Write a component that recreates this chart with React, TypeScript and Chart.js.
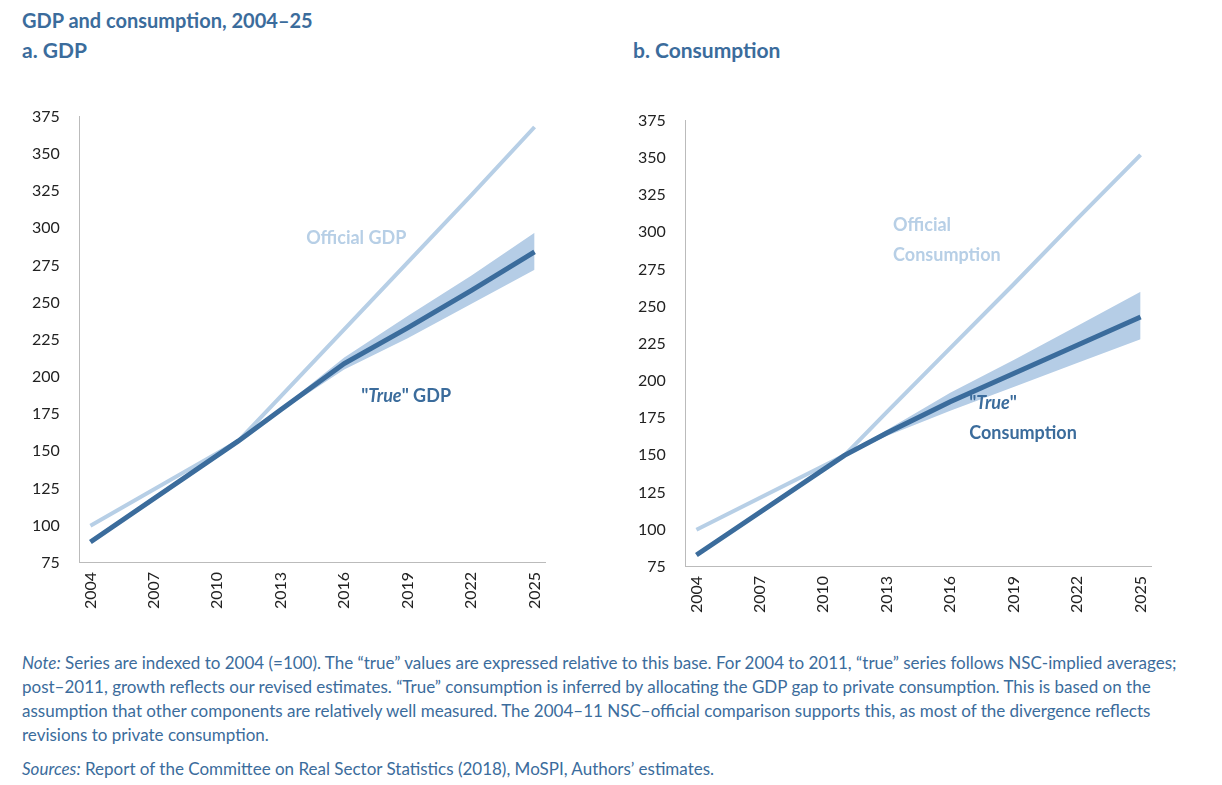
import React, { useEffect, useRef } from "react";
import { Chart, registerables } from "chart.js";
Chart.register(...registerables);

const years = [2004, 2011, 2013, 2016, 2019, 2022, 2025];
const tickYears = [2004, 2007, 2010, 2013, 2016, 2019, 2022, 2025];
const yTicks = [75, 100, 125, 150, 175, 200, 225, 250, 275, 300, 325, 350, 375];

const gdpOfficial = [100, 157, 187, 232, 277, 322, 368];
const gdpTrue = [89, 157, 178, 209, 233, 258, 284];
const gdpLow = [89, 157, 177, 205, 226, 249, 272];
const gdpHigh = [89, 157, 179, 213, 241, 268, 297];

const conOfficial = [100, 150, 179, 222, 265, 309, 352];
const conTrue = [83, 150, 165, 186, 205, 224, 243];
const conLow = [83, 150, 163, 180, 196, 212, 228];
const conHigh = [83, 150, 167, 192, 214, 237, 260];

const LIGHT = "#b7cfe6";
const DARK = "#3b6c9c";
const BAND = "#b5cde6";
const FONT = "Lato, 'Open Sans', sans-serif";

type Lbl = { x: number; y: number; lines: { t: string; italicPart?: string }[]; color: string };

function Panel({ official, tru, low, high, labels }: { official: number[]; tru: number[]; low: number[]; high: number[]; labels: Lbl[] }) {
  const ref = useRef<HTMLCanvasElement>(null);
  useEffect(() => {
    const pts = (a: number[]) => a.map((v, i) => ({ x: years[i], y: v }));
    const labelPlugin = {
      id: "lbl",
      afterDatasetsDraw(chart: any) {
        const c = chart.ctx;
        const xs = chart.scales.x, ys = chart.scales.y;
        labels.forEach((l) => {
          const px = xs.getPixelForValue(l.x);
          let py = ys.getPixelForValue(l.y);
          l.lines.forEach((ln) => {
            c.save();
            c.fillStyle = l.color;
            c.textBaseline = "middle";
            c.textAlign = "left";
            if (ln.italicPart) {
              const parts = ['"', ln.italicPart, '"' + ln.t];
              let x = px;
              parts.forEach((p, k) => {
                c.font = (k === 1 ? "italic " : "") + "bold 18px " + FONT;
                c.fillText(p, x, py);
                x += c.measureText(p).width;
              });
            } else {
              c.font = "bold 18px " + FONT;
              c.fillText(ln.t, px, py);
            }
            c.restore();
            py += 30;
          });
        });
      },
    };
    const chart = new Chart(ref.current!, {
      type: "line",
      data: {
        datasets: [
          { data: pts(low), borderWidth: 0, pointRadius: 0, fill: false, borderColor: "transparent", order: 3 },
          { data: pts(high), borderWidth: 0, pointRadius: 0, fill: "-1", backgroundColor: BAND, borderColor: "transparent", order: 2 },
          { data: pts(official), borderColor: LIGHT, borderWidth: 4, pointRadius: 0, order: 1 },
          { data: pts(tru), borderColor: DARK, borderWidth: 5, pointRadius: 0, order: 0 },
        ],
      },
      options: {
        animation: false,
        responsive: false,
        plugins: { legend: { display: false }, tooltip: { enabled: false } },
        layout: { padding: { top: 10, right: 10 } },
        scales: {
          x: {
            type: "linear",
            min: 2003.5,
            max: 2025.5,
            afterBuildTicks: (ax: any) => { ax.ticks = tickYears.map((v) => ({ value: v })); },
            grid: { display: false, drawTicks: true, tickLength: 6, color: "#bbb" },
            border: { color: "#bbb" },
            ticks: { maxRotation: 90, minRotation: 90, color: "#222", font: { family: FONT, size: 16 }, callback: (v: any) => String(v) },
          },
          y: {
            min: 75,
            max: 375,
            afterBuildTicks: (ax: any) => { ax.ticks = yTicks.map((v) => ({ value: v })); },
            grid: { display: false, drawTicks: false },
            border: { color: "#bbb" },
            ticks: { color: "#222", padding: 20, font: { family: FONT, size: 16 } },
          },
        },
      },
      plugins: [labelPlugin],
    });
    return () => chart.destroy();
  }, []);
  return <canvas ref={ref} width={545} height={525} style={{ display: "block" }} />;
}

export default function App() {
  const h: React.CSSProperties = { color: "#3b6c9c", fontWeight: 700, fontFamily: FONT };
  return (
    <div style={{ width: 1206, fontFamily: FONT, position: "relative", height: 770 }}>
      <div style={{ ...h, fontSize: 20, position: "absolute", left: 14, top: 0 }}>GDP and consumption, 2004–25</div>
      <div style={{ ...h, fontSize: 21, position: "absolute", left: 14, top: 29 }}>a. GDP</div>
      <div style={{ ...h, fontSize: 21, position: "absolute", left: 625, top: 29 }}>b. Consumption</div>
      <div style={{ position: "absolute", left: 4, top: 79 }}>
        <Panel official={gdpOfficial} tru={gdpTrue} low={gdpLow} high={gdpHigh}
          labels={[
            { x: 2014.2, y: 293, lines: [{ t: "Official GDP" }], color: LIGHT },
            { x: 2016.8, y: 187, lines: [{ t: " GDP", italicPart: "True" }], color: DARK },
          ]} />
      </div>
      <div style={{ position: "absolute", left: 610, top: 83 }}>
        <Panel official={conOfficial} tru={conTrue} low={conLow} high={conHigh}
          labels={[
            { x: 2013.3, y: 305, lines: [{ t: "Official" }, { t: "Consumption" }], color: LIGHT },
            { x: 2016.9, y: 185, lines: [{ t: "", italicPart: "True" }, { t: "Consumption" }], color: DARK },
          ]} />
      </div>
      <div style={{ position: "absolute", left: 14, top: 643, width: 1175, fontSize: 17, color: "#3b6c9c", lineHeight: "24px" }}>
        <div><i>Note:</i> Series are indexed to 2004 (=100). The “true” values are expressed relative to this base. For 2004 to 2011, “true” series follows NSC-implied averages; post–2011, growth reflects our revised estimates. “True” consumption is inferred by allocating the GDP gap to private consumption. This is based on the assumption that other components are relatively well measured. The 2004–11 NSC–official comparison supports this, as most of the divergence reflects revisions to private consumption.</div>
        <div style={{ marginTop: 10 }}><i>Sources:</i> Report of the Committee on Real Sector Statistics (2018), MoSPI, Authors’ estimates.</div>
      </div>
    </div>
  );
}
